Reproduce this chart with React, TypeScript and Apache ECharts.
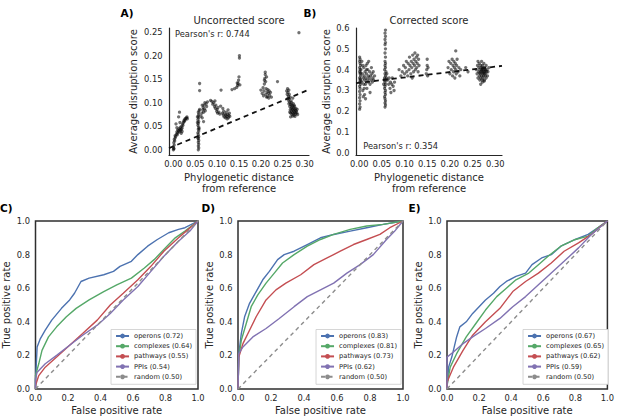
import React, { useEffect, useRef } from "react";
import * as echarts from "echarts";

const FONT = '"DejaVu Sans", sans-serif';
const TXT = "#262626";

// ---------- Panel A: uncorrected score (phylogenetic distance, score) ----------
const aNearZero = [[0.000,0.000],[0.001,0.003],[0.000,0.006],[0.002,0.010],[0.001,0.015],[0.003,0.019],[0.002,0.022],[0.004,0.025],[0.001,0.002]];
const aRise = [[0.005,0.028],[0.007,0.033],[0.008,0.038],[0.010,0.036],[0.010,0.042],[0.012,0.040],[0.013,0.045],[0.014,0.038],[0.015,0.043],[0.016,0.048],[0.017,0.041],[0.018,0.044],[0.019,0.050],[0.020,0.046],[0.021,0.055],[0.022,0.052],[0.023,0.058],[0.024,0.062],[0.025,0.060],[0.026,0.065],[0.027,0.063],[0.028,0.067],[0.030,0.068],[0.031,0.070],[0.032,0.066],[0.008,0.047],[0.014,0.080],[0.012,0.070],[0.006,0.055],[0.015,0.058],[0.020,0.039],[0.018,0.035],[0.004,0.030],[0.009,0.032]];
const aStripe = [[0.057,0.000],[0.058,0.004],[0.057,0.008],[0.058,0.012],[0.057,0.016],[0.058,0.020],[0.057,0.024],[0.058,0.028],[0.057,0.032],[0.056,0.036],[0.058,0.040],[0.057,0.044],[0.058,0.048],[0.056,0.052],[0.057,0.056],[0.058,0.060],[0.056,0.064],[0.058,0.068],[0.057,0.072],[0.058,0.076],[0.057,0.080],[0.059,0.083],[0.055,0.058],[0.055,0.070],[0.060,0.086],[0.060,0.126],[0.060,0.141],[0.059,0.045],[0.056,0.025]];
const aMid1 = [[0.063,0.072],[0.065,0.078],[0.066,0.068],[0.067,0.085],[0.068,0.090],[0.069,0.080],[0.070,0.095],[0.071,0.087],[0.072,0.100],[0.073,0.083],[0.075,0.098],[0.076,0.092],[0.078,0.102],[0.069,0.060],[0.066,0.095]];
const aMid2 = [[0.085,0.105],[0.088,0.103],[0.090,0.097],[0.092,0.100],[0.094,0.092],[0.096,0.088],[0.097,0.095],[0.099,0.082],[0.100,0.086],[0.101,0.078],[0.102,0.090],[0.104,0.080],[0.106,0.076],[0.108,0.093],[0.109,0.127],[0.112,0.078],[0.114,0.074],[0.115,0.082],[0.116,0.070],[0.118,0.076],[0.119,0.068],[0.120,0.073],[0.121,0.080],[0.122,0.071],[0.123,0.066],[0.124,0.075],[0.125,0.085],[0.126,0.068],[0.127,0.073],[0.128,0.078],[0.129,0.071],[0.113,0.088],[0.095,0.104]];
const aMid3 = [[0.134,0.128],[0.140,0.130],[0.145,0.133],[0.147,0.137],[0.148,0.141],[0.149,0.148],[0.150,0.155],[0.151,0.195],[0.151,0.200],[0.146,0.142],[0.152,0.138]];
const aFar1 = [[0.200,0.127],[0.203,0.120],[0.205,0.132],[0.206,0.115],[0.207,0.125],[0.208,0.140],[0.209,0.152],[0.210,0.160],[0.210,0.165],[0.211,0.118],[0.212,0.130],[0.213,0.155],[0.213,0.112],[0.214,0.123],[0.215,0.113],[0.216,0.128],[0.217,0.120],[0.218,0.110],[0.219,0.125],[0.220,0.116],[0.222,0.122],[0.224,0.112],[0.208,0.148],[0.211,0.145],[0.238,0.145]];
const aFar2 = [[0.259,0.125],[0.260,0.118],[0.261,0.130],[0.262,0.110],[0.262,0.122],[0.263,0.114],[0.263,0.105],[0.264,0.127],[0.264,0.098],[0.265,0.108],[0.265,0.118],[0.266,0.101],[0.266,0.092],[0.267,0.112],[0.267,0.085],[0.268,0.096],[0.268,0.078],[0.269,0.104],[0.269,0.088],[0.270,0.082],[0.270,0.095],[0.271,0.075],[0.271,0.090],[0.272,0.086],[0.272,0.079],[0.273,0.093],[0.273,0.072],[0.274,0.084],[0.274,0.098],[0.275,0.077],[0.275,0.089],[0.276,0.081],[0.276,0.074],[0.277,0.092],[0.277,0.086],[0.278,0.079],[0.278,0.071],[0.279,0.084],[0.280,0.088],[0.280,0.076],[0.281,0.082],[0.282,0.079],[0.283,0.086],[0.270,0.100],[0.268,0.070],[0.276,0.095],[0.266,0.080],[0.284,0.075],[0.273,0.110],[0.287,0.249]];
const aFit = [[-0.01,0.0035],[0.31,0.128]];

// ---------- Panel B: corrected score ----------
const bStripe0 = [[0.001,0.21],[0.002,0.22],[0.001,0.235],[0.002,0.25],[0.001,0.265],[0.002,0.28],[0.001,0.295],[0.002,0.31],[0.001,0.32],[0.003,0.33],[0.001,0.34],[0.002,0.35],[0.001,0.36],[0.003,0.37],[0.002,0.38],[0.001,0.39],[0.002,0.40],[0.001,0.41],[0.003,0.42],[0.002,0.43],[0.001,0.44],[0.002,0.45],[0.001,0.46],[0.003,0.355],[0.003,0.385],[0.004,0.345],[0.004,0.40]];
const bCloud = [[0.006,0.34],[0.007,0.38],[0.008,0.30],[0.009,0.36],[0.010,0.33],[0.010,0.41],[0.011,0.37],[0.012,0.35],[0.012,0.28],[0.013,0.39],[0.014,0.33],[0.015,0.36],[0.015,0.42],[0.016,0.38],[0.017,0.31],[0.018,0.35],[0.019,0.40],[0.020,0.37],[0.020,0.34],[0.021,0.44],[0.022,0.36],[0.023,0.39],[0.024,0.33],[0.025,0.37],[0.026,0.35],[0.027,0.41],[0.028,0.38],[0.029,0.34],[0.030,0.36],[0.031,0.39],[0.032,0.35],[0.034,0.37],[0.009,0.27],[0.014,0.26],[0.006,0.44],[0.018,0.43],[0.011,0.31],[0.024,0.29],[0.016,0.40],[0.008,0.42]];
const bStripe1 = [[0.057,0.22],[0.058,0.23],[0.057,0.24],[0.058,0.25],[0.057,0.26],[0.056,0.27],[0.058,0.28],[0.057,0.29],[0.058,0.30],[0.056,0.31],[0.057,0.32],[0.058,0.33],[0.057,0.34],[0.059,0.35],[0.056,0.36],[0.058,0.37],[0.057,0.38],[0.059,0.39],[0.056,0.40],[0.058,0.41],[0.057,0.42],[0.058,0.43],[0.057,0.44],[0.058,0.46],[0.057,0.48],[0.058,0.50],[0.057,0.52],[0.058,0.53],[0.057,0.545],[0.058,0.56],[0.057,0.575],[0.058,0.59],[0.055,0.35],[0.060,0.36],[0.054,0.33],[0.061,0.38]];
const bMid1 = [[0.063,0.35],[0.065,0.33],[0.066,0.36],[0.068,0.31],[0.069,0.34],[0.070,0.29],[0.072,0.33],[0.073,0.36],[0.075,0.32],[0.077,0.30],[0.078,0.34]];
const bMid2 = [[0.088,0.40],[0.092,0.37],[0.095,0.39],[0.098,0.42],[0.100,0.38],[0.102,0.41],[0.104,0.44],[0.105,0.39],[0.107,0.37],[0.108,0.43],[0.110,0.40],[0.111,0.46],[0.112,0.42],[0.114,0.38],[0.115,0.44],[0.116,0.41],[0.118,0.47],[0.119,0.43],[0.120,0.39],[0.121,0.45],[0.122,0.42],[0.123,0.48],[0.124,0.40],[0.125,0.44],[0.126,0.46],[0.127,0.41],[0.128,0.43],[0.130,0.39],[0.131,0.45],[0.132,0.42],[0.129,0.47],[0.117,0.36]];
const bMid3 = [[0.148,0.38],[0.149,0.40],[0.150,0.42],[0.150,0.45],[0.151,0.37],[0.152,0.41]];
const bFar1 = [[0.196,0.41],[0.198,0.44],[0.200,0.38],[0.202,0.43],[0.203,0.40],[0.205,0.45],[0.206,0.37],[0.207,0.42],[0.208,0.39],[0.209,0.44],[0.210,0.41],[0.211,0.36],[0.212,0.43],[0.213,0.40],[0.214,0.38],[0.215,0.42],[0.216,0.45],[0.218,0.39],[0.220,0.41],[0.222,0.37],[0.224,0.40],[0.213,0.49],[0.235,0.41],[0.240,0.39]];
const bFar2 = [[0.258,0.40],[0.260,0.38],[0.261,0.42],[0.262,0.36],[0.263,0.39],[0.264,0.41],[0.265,0.37],[0.265,0.43],[0.266,0.35],[0.266,0.40],[0.267,0.38],[0.268,0.42],[0.268,0.36],[0.269,0.39],[0.269,0.41],[0.270,0.37],[0.270,0.44],[0.271,0.40],[0.271,0.35],[0.272,0.38],[0.272,0.42],[0.273,0.36],[0.273,0.39],[0.274,0.41],[0.274,0.37],[0.275,0.40],[0.275,0.43],[0.276,0.38],[0.276,0.35],[0.277,0.39],[0.277,0.41],[0.278,0.37],[0.278,0.40],[0.279,0.38],[0.280,0.42],[0.280,0.36],[0.281,0.39],[0.282,0.40],[0.283,0.37],[0.284,0.39],[0.268,0.33],[0.272,0.34],[0.286,0.41],[0.262,0.44],[0.276,0.345],[0.270,0.395],[0.274,0.385],[0.278,0.395],[0.266,0.385],[0.272,0.405]];
const bFit = [[-0.007,0.335],[0.315,0.418]];

const distTicks = [0, 0.05, 0.1, 0.15, 0.2, 0.25, 0.3];
const aScoreTicks = [0, 0.05, 0.1, 0.15, 0.2, 0.25];
const bScoreTicks = [0, 0.1, 0.2, 0.3, 0.4, 0.5, 0.6];
const rateTicks = [0, 0.2, 0.4, 0.6, 0.8, 1.0];

// ---------- ROC curves ----------
const rocC_operons = [[0,0],[0,0.05],[0.01,0.25],[0.03,0.30],[0.06,0.35],[0.10,0.41],[0.16,0.48],[0.21,0.53],[0.24,0.57],[0.28,0.64],[0.33,0.66],[0.42,0.68],[0.48,0.70],[0.52,0.73],[0.59,0.76],[0.63,0.80],[0.69,0.85],[0.75,0.89],[0.82,0.93],[0.88,0.95],[0.92,0.96],[1,1]];
const rocC_complexes = [[0,0],[0,0.08],[0.02,0.15],[0.04,0.23],[0.08,0.31],[0.13,0.37],[0.19,0.43],[0.25,0.48],[0.33,0.53],[0.42,0.58],[0.50,0.62],[0.59,0.66],[0.67,0.72],[0.73,0.77],[0.79,0.83],[0.86,0.90],[0.92,0.94],[1,1]];
const rocC_pathways = [[0,0],[0,0.02],[0.02,0.08],[0.06,0.13],[0.13,0.19],[0.21,0.26],[0.29,0.33],[0.38,0.41],[0.46,0.50],[0.54,0.57],[0.63,0.65],[0.71,0.73],[0.79,0.82],[0.88,0.90],[0.94,0.95],[1,1]];
const rocC_ppis = [[0,0],[0,0.06],[0.01,0.10],[0.06,0.15],[0.13,0.20],[0.21,0.26],[0.29,0.32],[0.38,0.38],[0.46,0.45],[0.54,0.53],[0.63,0.61],[0.71,0.70],[0.79,0.79],[0.88,0.88],[0.95,0.94],[1,1]];

const rocD_operons = [[0,0],[0.005,0.21],[0.02,0.33],[0.04,0.43],[0.07,0.51],[0.11,0.58],[0.15,0.65],[0.19,0.70],[0.24,0.77],[0.28,0.80],[0.34,0.82],[0.42,0.86],[0.50,0.90],[0.58,0.92],[0.68,0.94],[0.78,0.96],[0.88,0.98],[1,1]];
const rocD_complexes = [[0,0],[0.005,0.19],[0.02,0.29],[0.05,0.39],[0.08,0.49],[0.12,0.56],[0.17,0.63],[0.22,0.69],[0.27,0.75],[0.34,0.80],[0.42,0.85],[0.50,0.89],[0.58,0.92],[0.68,0.95],[0.78,0.97],[0.88,0.98],[1,1]];
const rocD_pathways = [[0,0],[0.005,0.19],[0.03,0.27],[0.07,0.35],[0.11,0.43],[0.17,0.53],[0.23,0.59],[0.29,0.63],[0.38,0.68],[0.46,0.74],[0.54,0.78],[0.62,0.82],[0.70,0.86],[0.78,0.89],[0.86,0.92],[0.92,0.96],[1,1]];
const rocD_ppis = [[0,0],[0.005,0.21],[0.03,0.25],[0.09,0.31],[0.17,0.36],[0.25,0.42],[0.34,0.49],[0.42,0.55],[0.50,0.59],[0.58,0.63],[0.66,0.69],[0.74,0.74],[0.82,0.80],[0.90,0.89],[0.95,0.94],[1,1]];

const rocE_operons = [[0,0],[0.01,0.13],[0.03,0.19],[0.05,0.27],[0.06,0.31],[0.08,0.37],[0.12,0.40],[0.16,0.45],[0.20,0.49],[0.24,0.53],[0.29,0.57],[0.33,0.61],[0.37,0.64],[0.43,0.67],[0.49,0.69],[0.53,0.74],[0.59,0.78],[0.65,0.80],[0.71,0.85],[0.80,0.89],[0.88,0.92],[0.94,0.96],[1,1]];
const rocE_complexes = [[0,0],[0,0.02],[0.02,0.13],[0.06,0.21],[0.12,0.31],[0.18,0.39],[0.24,0.47],[0.31,0.55],[0.37,0.60],[0.43,0.65],[0.51,0.69],[0.57,0.74],[0.63,0.79],[0.71,0.85],[0.80,0.89],[0.88,0.91],[0.94,0.96],[1,1]];
const rocE_pathways = [[0,0],[0,0.04],[0.04,0.13],[0.10,0.23],[0.16,0.32],[0.24,0.40],[0.33,0.48],[0.41,0.58],[0.49,0.64],[0.57,0.69],[0.65,0.75],[0.73,0.82],[0.82,0.87],[0.90,0.92],[0.96,0.97],[1,1]];
const rocE_ppis = [[0,0],[0,0.19],[0.04,0.22],[0.10,0.27],[0.16,0.31],[0.24,0.36],[0.33,0.42],[0.41,0.49],[0.49,0.55],[0.57,0.62],[0.65,0.69],[0.73,0.76],[0.82,0.84],[0.90,0.92],[1,1]];

const randomDiag = [[0,0],[1,1]];

const namesC = ["operons (0.72)", "complexes (0.64)", "pathways (0.55)", "PPIs (0.54)", "random (0.50)"];
const namesD = ["operons (0.83)", "complexes (0.81)", "pathways (0.73)", "PPIs (0.62)", "random (0.50)"];
const namesE = ["operons (0.67)", "complexes (0.65)", "pathways (0.62)", "PPIs (0.59)", "random (0.50)"];
const curveColors = ["#4C72B0", "#55A868", "#C44E52", "#8172B2", "#8c8c8c"];

export default function App() {
  const ref = useRef<HTMLDivElement>(null);
  useEffect(() => {
    if (!ref.current) return;
    const chart = echarts.init(ref.current, null, { renderer: "svg" });

    const grids = [
      { left: 169, top: 28, width: 140, height: 127 },
      { left: 356, top: 28, width: 146, height: 127 },
      { left: 34, top: 221, width: 164, height: 168, show: true, borderColor: "#2e2e2e", borderWidth: 1.5, backgroundColor: "transparent" },
      { left: 238, top: 221, width: 165, height: 168, show: true, borderColor: "#2e2e2e", borderWidth: 1.5, backgroundColor: "transparent" },
      { left: 447, top: 221, width: 163, height: 168, show: true, borderColor: "#2e2e2e", borderWidth: 1.5, backgroundColor: "transparent" },
    ];

    const spine = { show: true, onZero: false, lineStyle: { color: TXT, width: 1.2 } };
    const lbl = (vals: number[], digits: number, margin: number) => ({
      customValues: vals,
      formatter: (v: number) => Number(v).toFixed(digits),
      fontSize: 8.3,
      color: TXT,
      fontFamily: FONT,
      margin,
    });
    const nameStyle = { fontSize: 10, color: TXT, fontFamily: FONT, lineHeight: 11 };

    const xAxes: any[] = [
      { type: "value", gridIndex: 0, min: -0.01, max: 0.31, axisLine: spine, axisTick: { show: false }, splitLine: { show: false }, axisLabel: lbl(distTicks, 2, 5), name: "Phylogenetic distance\nfrom reference", nameLocation: "middle", nameGap: 17, nameTextStyle: nameStyle },
      { type: "value", gridIndex: 1, min: -0.007, max: 0.315, axisLine: spine, axisTick: { show: false }, splitLine: { show: false }, axisLabel: lbl(distTicks, 2, 5), name: "Phylogenetic distance\nfrom reference", nameLocation: "middle", nameGap: 17, nameTextStyle: nameStyle },
    ];
    const yAxes: any[] = [
      { type: "value", gridIndex: 0, min: -0.011, max: 0.259, axisLine: spine, axisTick: { show: false }, splitLine: { show: false }, axisLabel: lbl(aScoreTicks, 2, 6.5), name: "Average disruption score", nameLocation: "middle", nameGap: 30, nameTextStyle: nameStyle },
      { type: "value", gridIndex: 1, min: -0.01, max: 0.6, axisLine: spine, axisTick: { show: false }, splitLine: { show: false }, axisLabel: lbl(bScoreTicks, 1, 6.5), name: "Average disruption score", nameLocation: "middle", nameGap: 21.5, nameTextStyle: nameStyle },
    ];
    [2, 3, 4].forEach((g) => {
      xAxes.push({ type: "value", gridIndex: g, min: 0, max: 1, axisLine: { show: false }, axisTick: { show: false }, splitLine: { show: false }, axisLabel: lbl(rateTicks, 1, 5), name: "False positive rate", nameLocation: "middle", nameGap: 16, nameTextStyle: nameStyle });
      yAxes.push({ type: "value", gridIndex: g, min: 0, max: 1, axisLine: { show: false }, axisTick: { show: false }, splitLine: { show: false }, axisLabel: lbl(rateTicks, 1, 5.5), name: "True positive rate", nameLocation: "middle", nameGap: 23.5, nameTextStyle: nameStyle });
    });

    const dotStyle = { color: "rgba(10,10,10,0.72)" };
    const series: any[] = [
      { type: "scatter", xAxisIndex: 0, yAxisIndex: 0, symbolSize: 3.3, itemStyle: dotStyle, data: [...aNearZero, ...aRise, ...aStripe, ...aMid1, ...aMid2, ...aMid3, ...aFar1, ...aFar2] },
      { type: "line", xAxisIndex: 0, yAxisIndex: 0, symbol: "none", lineStyle: { color: "#111", width: 1.8, type: [5, 4] }, data: aFit },
      { type: "scatter", xAxisIndex: 1, yAxisIndex: 1, symbolSize: 3.3, itemStyle: dotStyle, data: [...bStripe0, ...bCloud, ...bStripe1, ...bMid1, ...bMid2, ...bMid3, ...bFar1, ...bFar2] },
      { type: "line", xAxisIndex: 1, yAxisIndex: 1, symbol: "none", lineStyle: { color: "#111", width: 1.8, type: [5, 4] }, data: bFit },
    ];

    const rocSets = [
      { idx: 2, names: namesC, curves: [rocC_operons, rocC_complexes, rocC_pathways, rocC_ppis, randomDiag] },
      { idx: 3, names: namesD, curves: [rocD_operons, rocD_complexes, rocD_pathways, rocD_ppis, randomDiag] },
      { idx: 4, names: namesE, curves: [rocE_operons, rocE_complexes, rocE_pathways, rocE_ppis, randomDiag] },
    ];
    rocSets.forEach((set) => {
      set.curves.forEach((d, i) => {
        series.push({
          type: "line",
          name: set.names[i],
          xAxisIndex: set.idx,
          yAxisIndex: set.idx,
          symbol: "none",
          color: curveColors[i],
          lineStyle: { color: curveColors[i], width: 1.4, type: i === 4 ? [4, 3.5] : "solid" },
          data: d,
        });
      });
    });

    const legendBase = {
      orient: "vertical",
      bottom: 32.7,
      padding: [3, 4, 4, 4],
      itemWidth: 13,
      itemHeight: 6,
      itemGap: 3.2,
      selectedMode: false,
      backgroundColor: "#fff",
      borderColor: "#cccccc",
      borderWidth: 0.8,
      borderRadius: 0,
      textStyle: { fontSize: 6.7, lineHeight: 6, color: TXT, fontFamily: FONT },
    };
    const legends = [
      { ...legendBase, right: 421, data: namesC },
      { ...legendBase, right: 216, data: namesD },
      { ...legendBase, right: 9, data: namesE },
    ];

    const t = (text: string, x: number, y: number, size: number, opts: any = {}) => ({
      type: "text",
      x,
      y,
      style: { text, font: `${opts.bold ? "bold " : ""}${size}px ${FONT}`, fill: opts.fill || TXT, align: opts.align || "left", verticalAlign: "middle" },
    });

    const graphic = [
      t("A)", 120.5, 12.5, 10.5, { bold: true, fill: "#000" }),
      t("B)", 303.5, 12.5, 10.5, { bold: true, fill: "#000" }),
      t("C)", 0, 207.5, 10.5, { bold: true, fill: "#000" }),
      t("D)", 201.5, 207.5, 10.5, { bold: true, fill: "#000" }),
      t("E)", 408.5, 207.5, 10.5, { bold: true, fill: "#000" }),
      t("Uncorrected score", 239, 20.7, 10, { align: "center" }),
      t("Corrected score", 429, 20.7, 10, { align: "center" }),
      t("Pearson's r: 0.744", 175, 34.3, 8.3),
      t("Pearson's r: 0.354", 363.3, 146, 8.3),
    ];

    chart.setOption({
      animation: false,
      backgroundColor: "#fff",
      textStyle: { fontFamily: FONT },
      grid: grids,
      xAxis: xAxes,
      yAxis: yAxes,
      legend: legends,
      series,
      graphic,
    });
    return () => chart.dispose();
  }, []);

  return <div ref={ref} style={{ position: "fixed", left: 0, top: 0, width: 617, height: 417, background: "#fff" }} />;
}
